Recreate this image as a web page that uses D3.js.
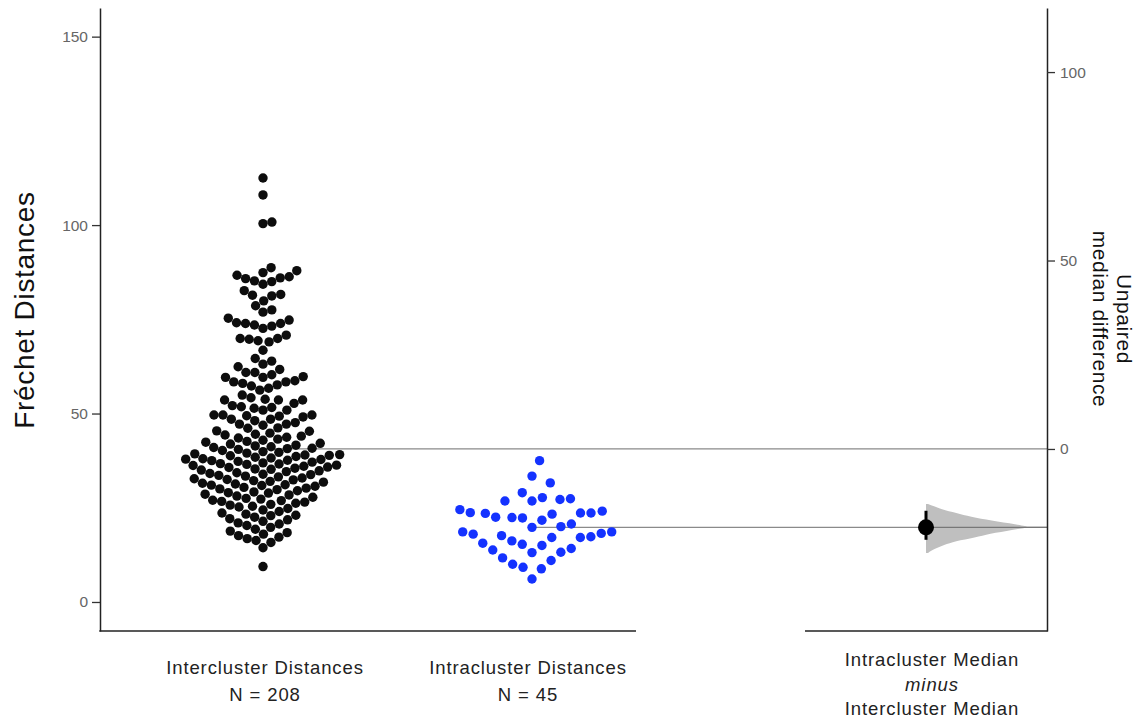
<!DOCTYPE html>
<html>
<head>
<meta charset="utf-8">
<script src="https://cdn.jsdelivr.net/npm/d3@7"></script>
<style>
  body { margin: 0; background: #fff; }
  text { font-family: "Liberation Sans", Arial, sans-serif; }
</style>
</head>
<body>
<svg id="chart" width="1147" height="724"></svg>
<script>
// data
var groups = ["Intercluster Distances", "Intracluster Distances", "delta"];

var interValues = [
  112.5, 108.0, 100.8, 100.4,
  88.7, 87.9, 87.4, 86.7, 86.3, 86.0, 85.8, 85.2, 85.0,
  84.3, 82.6, 81.6, 81.4, 81.2,
  79.9, 78.6, 77.5, 76.9, 75.3,
  74.8, 74.1, 73.9, 73.9, 73.5, 73.2, 72.6, 70.8,
  69.9, 69.9, 69.7, 69.3, 69.0, 66.8,
  64.6, 63.9, 63.1, 62.4, 61.7, 60.9, 60.9, 60.3,
  59.8, 59.6, 59.6, 58.7, 58.4, 58.4, 58.0, 57.6, 57.3, 56.7, 56.2,
  54.9, 54.2, 53.8, 53.6, 53.6, 53.6, 52.7, 52.1, 51.8, 51.6, 51.4, 50.9, 50.9,
  49.6, 49.6, 49.4, 49.1, 49.3, 49.6, 48.5, 48.1, 48.5, 47.2, 47.6, 47.2, 46.1, 45.4, 46.2, 45.3, 46.9,
  44.8, 44.5, 44.3, 44.0, 43.7, 43.5, 43.2, 42.9, 42.6, 42.4, 42.1, 41.9, 41.6, 41.4, 41.2, 41.0, 40.8, 40.7, 40.5, 40.2,
  39.9, 39.7, 39.5, 39.3, 39.1, 38.9, 38.8, 38.6, 38.4, 38.2, 38.0, 37.8, 37.6, 37.5, 37.3, 37.1,
  36.9, 36.7, 36.5, 36.3, 36.2, 36.0, 35.8, 35.7, 35.5, 35.3, 35.2, 35.0, 39.0, 37.9, 36.6,
  34.8, 34.6, 34.3, 34.1, 33.9, 33.6, 33.4, 33.2, 32.9, 32.7, 32.5, 32.2, 32.0, 31.8, 31.5,
  31.3, 31.1, 30.9, 30.7, 30.4, 30.2, 30.0, 33.8, 32.4, 31.0,
  29.8, 29.5, 29.2, 28.9, 28.6, 28.4, 28.1, 27.8, 27.5, 27.3, 27.0, 26.7, 26.5, 26.2, 25.9,
  25.7, 25.4, 25.2, 29.0, 26.9,
  24.8, 24.4, 24.0, 23.6, 23.3, 22.9, 22.5, 22.1, 21.8, 21.4, 21.0, 20.7, 20.3, 23.0,
  19.8, 19.3, 18.8, 18.4, 18.0, 17.6, 17.2, 16.8, 16.3, 15.8,
  14.4, 9.4
];

var intraValues = [
  37.5, 33.4, 31.6, 29.0, 27.4, 26.8, 27.7, 26.8, 27.2, 23.6,
  24.5, 23.7, 22.4, 23.3, 23.6, 24.1, 22.5, 23.5, 21.7, 22.3,
  20.0, 20.7, 18.2, 18.6, 18.6, 19.8, 17.1, 17.6, 17.3, 18.0,
  17.1, 16.2, 15.6, 15.3, 15.0, 14.2, 13.8, 13.2, 13.1, 11.7,
  11.0, 10.0, 9.2, 8.8, 6.1
];

// bootstrap distribution of the median difference (shape)
var bootDiff    = [-14.6, -15.2, -16.0, -17.0, -18.0, -19.0, -20.0, -20.7, -21.5, -22.5, -23.5, -24.5, -25.5, -26.5, -27.6];
var bootDensity = [0.02, 0.08, 0.16, 0.30, 0.45, 0.65, 0.88, 1.00, 0.85, 0.64, 0.48, 0.30, 0.18, 0.09, 0.02];
var ciBounds = [-24.1, -16.4];

var leftTicks = [0, 50, 100, 150];
var rightTicks = [0, 50, 100];

var svg = d3.select("#chart");
var font = "'Liberation Sans', Arial, sans-serif";

var medInter = d3.median(interValues);
var medIntra = d3.median(intraValues);
var medDiff = medIntra - medInter;

var yLeft = d3.scaleLinear().domain([-7.7, 157.6]).range([631, 8]);
var yRight = d3.scaleLinear().domain([-7.7 - medInter, 157.6 - medInter]).range([631, 8]);
var x = d3.scaleOrdinal().domain(groups).range([263, 532, 926]);

// swarm placement, point by point from the bottom up
// (vertical gaps count for less than horizontal ones, like the original's layout)
function swarm(values, diam, k) {
  var pts = values.map(function(v) { return {v: v, y: yLeft(v)}; })
    .sort(function(a, b) { return b.y - a.y; });
  var placed = [];
  pts.forEach(function(p) {
    var near = placed.filter(function(q) { return Math.abs(q.y - p.y) * k < diam; });
    var cands = [0];
    near.forEach(function(q) {
      var dy = (q.y - p.y) * k;
      var dx = Math.sqrt(diam * diam - dy * dy);
      cands.push(q.dx + dx, q.dx - dx);
    });
    cands.sort(function(a, b) { return Math.abs(a) - Math.abs(b); });
    for (var i = 0; i < cands.length; i++) {
      var c = cands[i];
      var ok = near.every(function(q) {
        var dy = (q.y - p.y) * k;
        return (q.dx - c) * (q.dx - c) + dy * dy >= diam * diam - 0.01;
      });
      if (ok) { p.dx = c; break; }
    }
    placed.push(p);
  });
  return placed;
}

// median reference lines
svg.append("line")
  .attr("x1", x(groups[0])).attr("x2", 1047)
  .attr("y1", yLeft(medInter)).attr("y2", yLeft(medInter))
  .attr("stroke", "#8a8a8a").attr("stroke-width", 1.2);
svg.append("line")
  .attr("x1", x(groups[1])).attr("x2", 1047)
  .attr("y1", yLeft(medIntra)).attr("y2", yLeft(medIntra))
  .attr("stroke", "#8a8a8a").attr("stroke-width", 1.2);

// swarms
var interPts = swarm(interValues, 9, 0.8);
var intraPts = swarm(intraValues, 10.5, 0.47);

svg.append("g").selectAll("circle")
  .data(interPts)
  .enter()
  .append("circle")
  .attr("cx", function(d) { return x(groups[0]) + d.dx; })
  .attr("cy", function(d) { return d.y; })
  .attr("r", 4.7)
  .style("fill", "#0d0d0d");

svg.append("g").selectAll("circle")
  .data(intraPts)
  .enter()
  .append("circle")
  .attr("cx", function(d) { return x(groups[1]) + d.dx; })
  .attr("cy", function(d) { return d.y; })
  .attr("r", 4.7)
  .style("fill", "#1432ff");

// half violin of the bootstrap
var violinW = d3.scaleLinear().domain([0, 1]).range([0, 101]);
var boot = bootDiff.map(function(v, i) { return {v: v, d: bootDensity[i]}; });
var area = d3.area()
  .y(function(d) { return yRight(d.v); })
  .x0(x("delta"))
  .x1(function(d) { return x("delta") + violinW(d.d); })
  .curve(d3.curveMonotoneY);
svg.append("path")
  .datum(boot)
  .attr("d", area)
  .attr("fill", "#bfbfbf");

svg.append("line")
  .attr("x1", x("delta")).attr("x2", 1047)
  .attr("y1", yRight(medDiff)).attr("y2", yRight(medDiff))
  .attr("stroke", "#777").attr("stroke-width", 1.2);

// CI and effect size
svg.append("line")
  .attr("x1", x("delta")).attr("x2", x("delta"))
  .attr("y1", yRight(ciBounds[0])).attr("y2", yRight(ciBounds[1]))
  .attr("stroke", "#000").attr("stroke-width", 3);
svg.append("circle")
  .attr("cx", x("delta")).attr("cy", yRight(medDiff))
  .attr("r", 8).style("fill", "#000");

// axes
var leftAxis = d3.axisLeft(yLeft).tickValues(leftTicks).tickSize(8).tickSizeOuter(0).tickPadding(4);
var gl = svg.append("g").attr("transform", "translate(100,0)").call(leftAxis);
var rightAxis = d3.axisRight(yRight).tickValues(rightTicks).tickSize(8).tickSizeOuter(0).tickPadding(5);
var gr = svg.append("g").attr("transform", "translate(1047,0)").call(rightAxis);

[gl, gr].forEach(function(g) {
  g.select(".domain").attr("stroke", "#222").attr("stroke-width", 1.5);
  g.selectAll(".tick line").attr("stroke", "#333").attr("stroke-width", 1.3);
  g.selectAll(".tick text").attr("fill", "#666").style("font-size", "15.5px")
    .style("font-family", font);
});

// bottom axis segments
svg.append("line").attr("x1", 99.3).attr("x2", 636).attr("y1", 631).attr("y2", 631)
  .attr("stroke", "#222").attr("stroke-width", 1.5);
svg.append("line").attr("x1", 805).attr("x2", 1047.7).attr("y1", 631).attr("y2", 631)
  .attr("stroke", "#222").attr("stroke-width", 1.5);

// labels
svg.append("text")
  .attr("transform", "translate(34,310) rotate(-90)")
  .attr("text-anchor", "middle")
  .style("font-size", "28px").style("letter-spacing", "0.7px").attr("fill", "#111")
  .text("Fréchet Distances");

var rl = svg.append("text")
  .attr("transform", "translate(1117,319) rotate(90)")
  .attr("text-anchor", "middle")
  .style("font-size", "21px").style("letter-spacing", "0.6px").attr("fill", "#111");
rl.append("tspan").attr("x", 0).attr("dy", "0em").text("Unpaired");
rl.append("tspan").attr("x", 0).attr("dy", "1.12em").text("median difference");

var catLabels = [
  {x: x(groups[0]) + 2, lines: ["Intercluster Distances", "N = " + interValues.length]},
  {x: x(groups[1]) - 4, lines: ["Intracluster Distances", "N = " + intraValues.length]}
];
catLabels.forEach(function(c) {
  c.lines.forEach(function(t, i) {
    svg.append("text")
      .attr("x", c.x).attr("y", 674 + i * 27)
      .attr("text-anchor", "middle")
      .style("font-size", "18.5px").style("letter-spacing", "0.9px").attr("fill", "#222")
      .text(t);
  });
});

var deltaLines = ["Intracluster Median", "minus", "Intercluster Median"];
deltaLines.forEach(function(t, i) {
  svg.append("text")
    .attr("x", 932).attr("y", 666 + i * 24.5)
    .attr("text-anchor", "middle")
    .style("font-size", "18.5px").style("letter-spacing", "0.9px").attr("fill", "#222")
    .style("font-style", i === 1 ? "italic" : "normal")
    .text(t);
});
</script>
</body>
</html>
